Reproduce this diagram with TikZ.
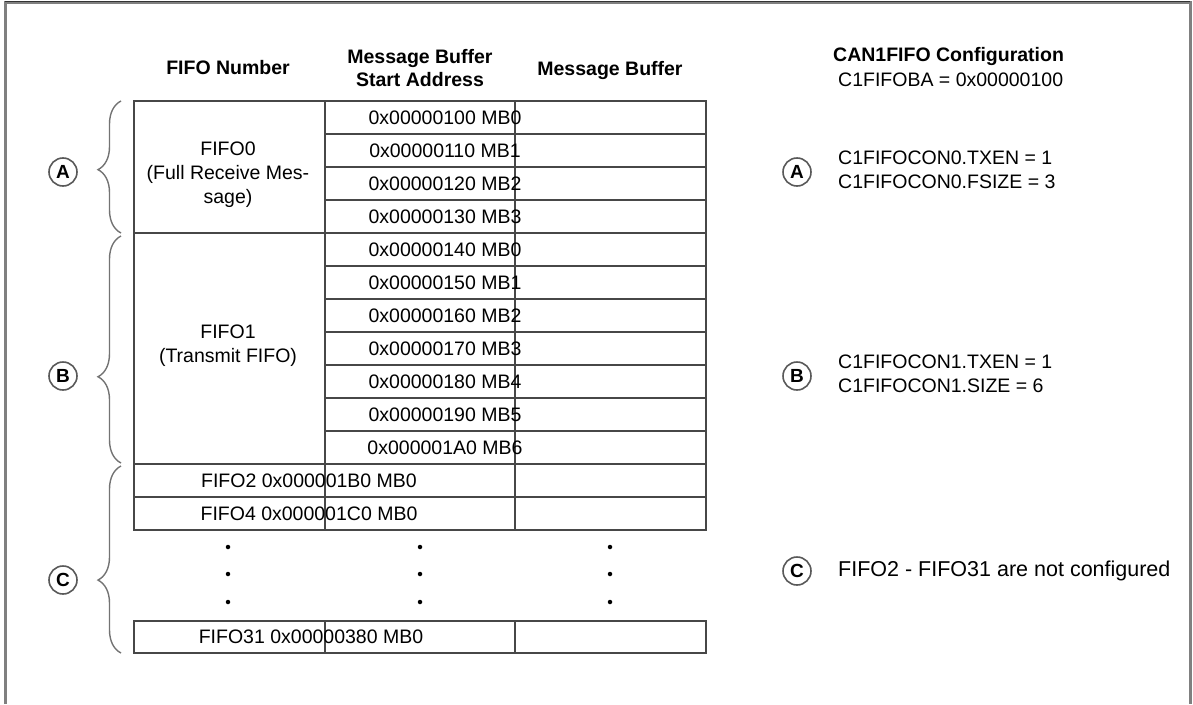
\documentclass[tikz,border=0pt]{standalone}
\usepackage{fontspec}
\setmainfont{Liberation Sans}
\usetikzlibrary{decorations.pathreplacing}
\begin{document}
\begin{tikzpicture}[x=1pt,y=-1pt,
  tline/.style={draw=black!72, line width=1.4pt},
  txt/.style={font=\fontsize{19.5}{24}\selectfont, inner sep=0pt},
  hdr/.style={font=\fontsize{19.5}{23}\selectfont\bfseries, align=center, inner sep=0pt},
  tag/.style={circle, draw=black!65, line width=1.6pt, minimum size=28pt, inner sep=0pt, font=\fontsize{19}{19}\selectfont\bfseries},
  brc/.style={draw=black!55, line width=1.4pt, decorate, decoration={brace, amplitude=23pt}},
  bdot/.style={circle, fill=black, inner sep=0pt, minimum size=4.5pt}
]
\useasboundingbox (0,0) rectangle (1193,704);
\draw[black!50, line width=3pt] (5,704) -- (5,2) -- (1190,2) -- (1190,704);
\draw[black!80, line width=1pt] (5,1.5) -- (1190,1.5);

% headers
\node[hdr] (h1) at (228,68) {FIFO Number};
\node[hdr] (h2) at (420,68) {Message Buffer\\Start Address};
\node[hdr] (h3) at (610,70) {Message Buffer};

% table grid
\draw[tline] (134,101) rectangle (706,530);
\draw[tline] (325,101) -- (325,530);
\draw[tline] (515,101) -- (515,530);
\foreach \i in {1,2,3,5,6,7,8,9,10}
  \draw[tline] (325,101+33*\i) -- (706,101+33*\i);
\draw[tline] (134,233) -- (706,233);
\draw[tline] (134,464) -- (706,464);
\draw[tline] (134,497) -- (706,497);
\draw[tline] (134,621) rectangle (706,653);
\draw[tline] (325,621) -- (325,653);
\draw[tline] (515,621) -- (515,653);

% first column
\node[txt, align=center] (f0) at (228,175) {FIFO0\\(Full Receive Mes-\\sage)};
\node[txt, align=center] (f1) at (228,346) {FIFO1\\(Transmit FIFO)};

% addresses
\foreach \a/\m [count=\k from 0] in {100/0,110/1,120/2,130/3,140/0,150/1,160/2,170/3,180/4,190/5,1A0/6}
  \node[txt] (ad\k) at (445,117.5+33*\k) {0x00000\a{} MB\m};

\node[txt] (f2) at (309,480.5) {FIFO2 0x000001B0 MB0};
\node[txt] (f4) at (309,513.5) {FIFO4 0x000001C0 MB0};
\node[txt] (f31) at (311,637) {FIFO31 0x00000380 MB0};

% dots
\foreach \x/\c in {228/a,420/b,610/c}{
  \node[bdot] (d1\c) at (\x,547) {};
  \node[bdot] (d2\c) at (\x,574) {};
  \node[bdot] (d3\c) at (\x,602) {};
}

% braces
\coordinate (bAt) at (121,101);
\coordinate (bAb) at (121,233);
\coordinate (bBt) at (121,236);
\coordinate (bBb) at (121,463);
\coordinate (bCt) at (121,466);
\coordinate (bCb) at (121,653);
\draw[brc, decoration={aspect=0.48}] (bAb) -- (bAt);
\draw[brc, decoration={aspect=0.38}] (bBb) -- (bBt);
\draw[brc, decoration={aspect=0.39}] (bCb) -- (bCt);

\node[tag] (la) at (63,172) {A};
\node[tag] (lb) at (63,376) {B};
\node[tag] (lc) at (63,580) {C};

% right side
\node[hdr, anchor=west] (cfg) at (833,57) {CAN1FIFO Configuration};
\node[txt, anchor=west] (ba) at (838,80) {C1FIFOBA = 0x00000100};

\node[tag] (ra) at (797,172) {A};
\node[txt, anchor=west, align=left] (ta) at (838,170) {C1FIFOCON0.TXEN = 1\\C1FIFOCON0.FSIZE = 3};
\node[tag] (rb) at (797,376) {B};
\node[txt, anchor=west, align=left] (tb) at (838,374) {C1FIFOCON1.TXEN = 1\\C1FIFOCON1.SIZE = 6};
\node[tag] (rc) at (797,571) {C};
\node[txt, anchor=west, font=\fontsize{21.5}{24}\selectfont] (tc) at (838,571) {FIFO2 - FIFO31 are not configured};
\end{tikzpicture}
\end{document}
